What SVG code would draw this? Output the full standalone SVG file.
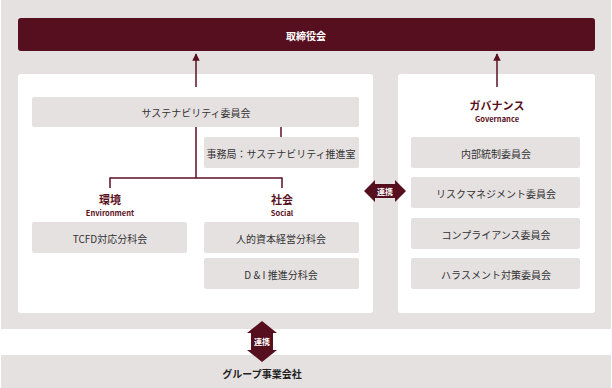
<svg xmlns="http://www.w3.org/2000/svg" width="612" height="388" viewBox="0 0 612 388">
<defs>
<style>
.t{font-family:"Noto Sans CJK JP","Noto Sans",sans-serif;font-size:10px;fill:#333;text-anchor:middle;dominant-baseline:central}
.w{fill:#fff;font-weight:bold}
.h{fill:#5a1020;font-weight:bold;font-size:11px}
.e{fill:#5a1020;font-weight:bold;font-size:7.5px}
.box{fill:#e6e1e1}
.ln{stroke:#5a1020;stroke-width:1.5;fill:none}
</style>
<marker id="ah" viewBox="0 0 10 10" refX="9" refY="5" markerWidth="5" markerHeight="5" orient="auto"><path d="M0,0 L10,5 L0,10 z" fill="#5a1020"/></marker>
</defs>
<rect x="0" y="0" width="612" height="388" fill="#fff"/>
<rect x="1" y="0" width="610" height="329" fill="#e6e1e1"/>
<g id="board"><rect x="18" y="18" width="577" height="33" rx="3" fill="#560f1e"/><text class="t w" x="306" y="35">取締役会</text></g>
<g id="leftPanel"><rect x="18" y="74" width="355" height="239" rx="3" fill="#fff"/></g>
<g id="rightPanel"><rect x="398" y="74" width="197" height="239" rx="3" fill="#fff"/></g>
<g id="sustain"><rect class="box" x="32" y="97" width="327" height="30" rx="2"/><text class="t" x="196" y="112">サステナビリティ委員会</text></g>
<g id="office"><rect class="box" x="204" y="137" width="155" height="31" rx="2"/><text class="t" x="281" y="153">事務局：サステナビリティ推進室</text></g>
<g id="env"><text class="t h" x="110" y="199">環境</text><text class="t e" x="110" y="212">Environment</text></g>
<g id="social"><text class="t h" x="282" y="199">社会</text><text class="t e" x="282" y="212">Social</text></g>
<g id="tcfd"><rect class="box" x="32" y="222" width="155" height="31" rx="2"/><text class="t" x="110" y="238">TCFD対応分科会</text></g>
<g id="hc"><rect class="box" x="204" y="222" width="155" height="31" rx="2"/><text class="t" x="281" y="238">人的資本経営分科会</text></g>
<g id="di"><rect class="box" x="204" y="258" width="155" height="31" rx="2"/><text class="t" x="281" y="274">D &amp; I 推進分科会</text></g>
<g id="gov"><text class="t h" x="497" y="105">ガバナンス</text><text class="t e" x="497" y="118">Governance</text></g>
<g id="ic"><rect class="box" x="411" y="137" width="169" height="31" rx="2"/><text class="t" x="496" y="153">内部統制委員会</text></g>
<g id="rm"><rect class="box" x="411" y="177" width="169" height="31" rx="2"/><text class="t" x="496" y="193">リスクマネジメント委員会</text></g>
<g id="cp"><rect class="box" x="411" y="218" width="169" height="31" rx="2"/><text class="t" x="496" y="234">コンプライアンス委員会</text></g>
<g id="hr"><rect class="box" x="411" y="258" width="169" height="31" rx="2"/><text class="t" x="496" y="274">ハラスメント対策委員会</text></g>
<g id="group"><rect x="1" y="355" width="610" height="33" fill="#e6e1e1"/><text class="t" x="262" y="373" style="font-weight:bold;fill:#222">グループ事業会社</text></g>
<g id="connectors">
<line class="ln" x1="196" y1="87" x2="196" y2="54" marker-end="url(#ah)"/>
<line class="ln" x1="497" y1="87" x2="497" y2="54" marker-end="url(#ah)"/>
<line class="ln" x1="196" y1="127" x2="196" y2="178"/>
<line class="ln" x1="281" y1="127" x2="281" y2="137"/>
<polyline class="ln" points="110,188 110,178 282,178 282,188"/>
<path d="M364,191 L375,180 L375,184 L395,184 L395,180 L406,191 L395,202 L395,198 L375,198 L375,202 Z" fill="#560f1e"/>
<text class="t w" x="385" y="191" style="font-size:8px">連携</text>
<path d="M262,321 L277,333 L273,333 L273,350 L277,350 L262,362 L247,350 L251,350 L251,333 L247,333 Z" fill="#560f1e"/>
<text class="t w" x="262" y="341" style="font-size:8px">連携</text>
</g>
</svg>
